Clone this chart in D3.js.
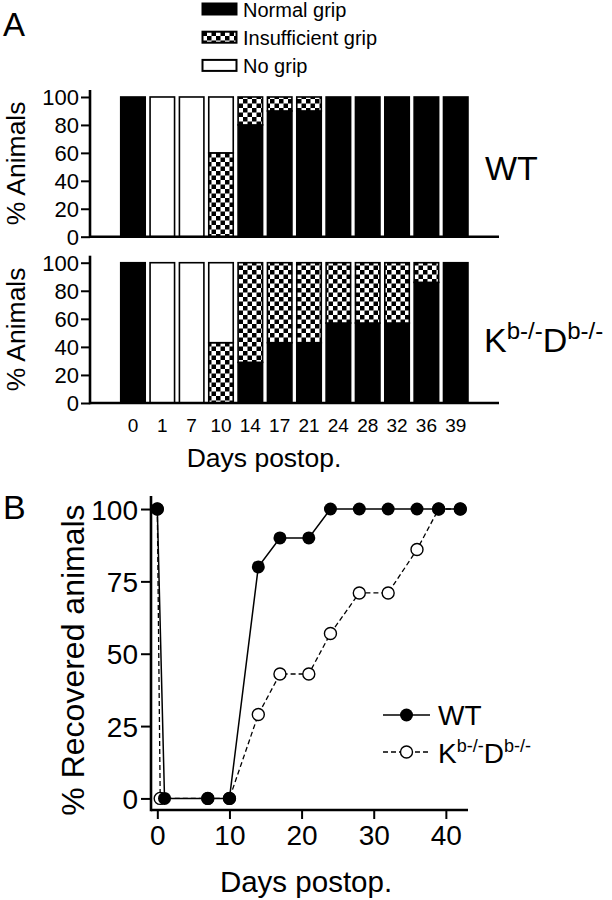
<!DOCTYPE html>
<html>
<head>
<meta charset="utf-8">
<script src="https://cdn.jsdelivr.net/npm/d3@7"></script>
<style>
  html, body { margin: 0; padding: 0; background: #fff; }
  svg { display: block; font-family: "Liberation Sans", Arial, sans-serif; }
</style>
</head>
<body>
<svg id="chart" width="612" height="900"></svg>
<script>
// ---------- Data ----------
const days = ["0", "1", "7", "10", "14", "17", "21", "24", "28", "32", "36", "39"];
const gripKeys = ["Normal grip", "Insufficient grip", "No grip"];
const wtNormal       = [100, 0, 0, 0, 80, 90, 90, 100, 100, 100, 100, 100];
const wtInsufficient = [0, 0, 0, 60, 20, 10, 10, 0, 0, 0, 0, 0];
const wtNoGrip       = [0, 100, 100, 40, 0, 0, 0, 0, 0, 0, 0, 0];
const koNormal       = [100, 0, 0, 0, 29, 43, 43, 57, 57, 57, 86, 100];
const koInsufficient = [0, 0, 0, 43, 71, 57, 57, 43, 43, 43, 14, 0];
const koNoGrip       = [0, 100, 100, 57, 0, 0, 0, 0, 0, 0, 0, 0];
const yTicksA = [0, 20, 40, 60, 80, 100];

const wtDays      = [0, 1, 7, 10, 14, 17, 21, 24, 28, 32, 36, 39, 42];
const wtRecovered = [100, 0, 0, 0, 80, 90, 90, 100, 100, 100, 100, 100, 100];
const koDays      = [0, 0.4, 7, 10, 14, 17, 21, 24, 28, 32, 36, 39, 42];
const koRecovered = [100, 0, 0, 0, 29, 43, 43, 57, 71, 71, 86, 100, 100];
const xTicksB = [0, 10, 20, 30, 40];
const yTicksB = [0, 25, 50, 75, 100];

// ---------- Setup ----------
const svg = d3.select("#chart");
const FONT = "'Liberation Sans', Arial, sans-serif";

const defs = svg.append("defs");
const pat = defs.append("pattern").attr("id", "checker")
  .attr("patternUnits", "userSpaceOnUse").attr("width", 9).attr("height", 9);
pat.append("rect").attr("width", 9).attr("height", 9).attr("fill", "#fff");
pat.append("rect").attr("width", 4.5).attr("height", 4.5).attr("fill", "#000");
pat.append("rect").attr("x", 4.5).attr("y", 4.5).attr("width", 4.5).attr("height", 4.5).attr("fill", "#000");

const fills = { "Normal grip": "#000", "Insufficient grip": "url(#checker)", "No grip": "#fff" };

// Panel letters
svg.append("text").attr("x", 3).attr("y", 36).attr("font-size", 33).text("A");
svg.append("text").attr("x", 3).attr("y", 519).attr("font-size", 34).text("B");

// Legend A
const legA = svg.append("g");
gripKeys.forEach((k, i) => {
  const cy = 9 + i * 28.2;
  legA.append("rect").attr("x", 202.5).attr("y", cy - 5.5).attr("width", 34).attr("height", 11)
    .attr("fill", fills[k]).attr("stroke", "#000").attr("stroke-width", 2);
  legA.append("text").attr("x", 243).attr("y", cy + 8).attr("font-size", 20).text(k);
});

// ---------- Panel A bar charts ----------
const xBand = d3.scaleBand().domain(days).range([118.3, 470.4]).paddingInner(0.114).paddingOuter(0.057);

function barPanel(top, bottom, normal, insuff, nogrip, labelFn) {
  const y = d3.scaleLinear().domain([0, 105]).range([bottom, top]);
  const table = days.map((d, i) => ({ day: d, "Normal grip": normal[i], "Insufficient grip": insuff[i], "No grip": nogrip[i] }));
  const stacked = d3.stack().keys(gripKeys)(table);
  const g = svg.append("g");
  stacked.forEach(layer => {
    g.selectAll(null).data(layer.filter(d => d[1] - d[0] > 0)).enter().append("rect")
      .attr("x", d => xBand(d.data.day) + 0.75)
      .attr("y", d => y(d[1]))
      .attr("width", xBand.bandwidth() - 1.5)
      .attr("height", d => y(d[0]) - y(d[1]))
      .attr("fill", fills[layer.key])
      .attr("stroke", "#000").attr("stroke-width", 1.6);
  });
  const yAx = g.append("g").attr("transform", "translate(90,0)")
    .call(d3.axisLeft(y).tickValues(yTicksA).tickSize(9).tickPadding(2));
  yAx.select(".domain").remove();
  yAx.selectAll(".tick line").attr("stroke", "#000").attr("stroke-width", 2);
  yAx.selectAll(".tick text").attr("font-size", 22).attr("font-family", FONT).attr("fill", "#000").attr("dy", "0.36em");
  g.append("line").attr("x1", 90).attr("x2", 90).attr("y1", y(105)).attr("y2", y(0) + 1.2)
    .attr("stroke", "#000").attr("stroke-width", 2.6);
  g.append("line").attr("x1", 90).attr("x2", 499).attr("y1", y(0)).attr("y2", y(0))
    .attr("stroke", "#000").attr("stroke-width", 2.6);
  g.append("text").attr("transform", `translate(25,${(top + bottom) / 2}) rotate(-90)`)
    .attr("text-anchor", "middle").attr("font-size", 26.5).text("% Animals");
  labelFn(g, y);
  return y;
}

barPanel(90, 236.7, wtNormal, wtInsufficient, wtNoGrip, (g) => {
  g.append("text").attr("x", 485).attr("y", 180).attr("font-size", 34).text("WT");
});
barPanel(255.7, 403, koNormal, koInsufficient, koNoGrip, (g) => {
  const t = g.append("text").attr("x", 484).attr("y", 352).attr("font-size", 34);
  t.append("tspan").text("K");
  t.append("tspan").attr("dy", -13).attr("font-size", 24).text("b-/-");
  t.append("tspan").attr("dy", 13).text("D");
  t.append("tspan").attr("dy", -13).attr("font-size", 24).text("b-/-");
});

// x tick labels A
svg.append("g").selectAll("text").data(days).enter().append("text")
  .attr("x", d => xBand(d) + xBand.bandwidth() / 2).attr("y", 432)
  .attr("text-anchor", "middle").attr("font-size", 19).text(d => d);
svg.append("text").attr("x", 264).attr("y", 467).attr("text-anchor", "middle")
  .attr("font-size", 26.5).text("Days postop.");

// ---------- Panel B line chart ----------
const xB = d3.scaleLinear().domain([-1, 43]).range([150.1, 467.5]);
const yB = d3.scaleLinear().domain([-4, 104.5]).range([810, 496]);
const gB = svg.append("g");

const xAxB = gB.append("g").attr("transform", "translate(0,810)")
  .call(d3.axisBottom(xB).tickValues(xTicksB).tickSize(9).tickPadding(6));
xAxB.select(".domain").remove();
xAxB.selectAll(".tick line").attr("stroke", "#000").attr("stroke-width", 2);
xAxB.selectAll(".tick text").attr("font-size", 28).attr("font-family", FONT).attr("fill", "#000");

const yAxB = gB.append("g").attr("transform", "translate(151,0)")
  .call(d3.axisLeft(yB).tickValues(yTicksB).tickSize(10).tickPadding(3));
yAxB.select(".domain").remove();
yAxB.selectAll(".tick line").attr("stroke", "#000").attr("stroke-width", 2);
yAxB.selectAll(".tick text").attr("font-size", 28).attr("font-family", FONT).attr("fill", "#000").attr("dy", "0.36em");

gB.append("line").attr("x1", 151).attr("x2", 151).attr("y1", 496).attr("y2", 811.3).attr("stroke", "#000").attr("stroke-width", 2.6);
gB.append("line").attr("x1", 151).attr("x2", 468).attr("y1", 810).attr("y2", 810).attr("stroke", "#000").attr("stroke-width", 2.6);

gB.append("text").attr("transform", `translate(84,660) rotate(-90)`)
  .attr("text-anchor", "middle").attr("font-size", 32).text("% Recovered animals");
gB.append("text").attr("x", 306).attr("y", 892).attr("text-anchor", "middle")
  .attr("font-size", 29.5).text("Days postop.");

const line = d3.line().x(d => xB(d[0])).y(d => yB(d[1]));
const koPts = koDays.map((d, i) => [d, koRecovered[i]]);
const wtPts = wtDays.map((d, i) => [d, wtRecovered[i]]);

gB.append("path").datum(koPts).attr("d", line).attr("fill", "none")
  .attr("stroke", "#000").attr("stroke-width", 1.3).attr("stroke-dasharray", "5,3");
gB.selectAll(".ko").data(koPts).enter().append("circle").attr("class", "ko")
  .attr("cx", d => xB(d[0])).attr("cy", d => yB(d[1])).attr("r", 6)
  .attr("fill", "#fff").attr("stroke", "#000").attr("stroke-width", 1.4);
gB.append("path").datum(wtPts).attr("d", line).attr("fill", "none")
  .attr("stroke", "#000").attr("stroke-width", 1.5);
gB.selectAll(".wt").data(wtPts).enter().append("circle").attr("class", "wt")
  .attr("cx", d => xB(d[0])).attr("cy", d => yB(d[1])).attr("r", 6.5).attr("fill", "#000");

// Legend B
const legB = svg.append("g");
legB.append("line").attr("x1", 383).attr("x2", 430).attr("y1", 715).attr("y2", 715).attr("stroke", "#000").attr("stroke-width", 1.5);
legB.append("circle").attr("cx", 406.5).attr("cy", 715).attr("r", 6.5).attr("fill", "#000");
legB.append("text").attr("x", 438).attr("y", 725).attr("font-size", 28).text("WT");
legB.append("line").attr("x1", 383).attr("x2", 430).attr("y1", 752).attr("y2", 752).attr("stroke", "#000").attr("stroke-width", 1.3).attr("stroke-dasharray", "5,3");
legB.append("circle").attr("cx", 406.5).attr("cy", 752).attr("r", 6).attr("fill", "#fff").attr("stroke", "#000").attr("stroke-width", 1.4);
const tB = legB.append("text").attr("x", 438).attr("y", 763).attr("font-size", 28);
tB.append("tspan").text("K");
tB.append("tspan").attr("dy", -11).attr("font-size", 18).text("b-/-");
tB.append("tspan").attr("dy", 11).text("D");
tB.append("tspan").attr("dy", -11).attr("font-size", 18).text("b-/-");
</script>
</body>
</html>
